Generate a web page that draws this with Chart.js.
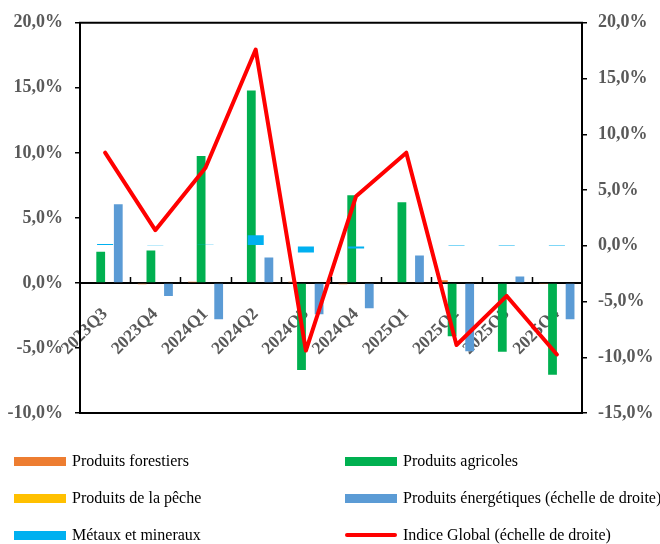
<!DOCTYPE html>
<html>
<head>
<meta charset="utf-8">
<script src="https://cdn.jsdelivr.net/npm/chart.js@4/dist/chart.umd.min.js"></script>
<style>
  html, body { margin: 0; padding: 0; background: #ffffff; }
  #wrap { position: relative; width: 660px; height: 544px; overflow: hidden; }
  #chart { position: absolute; left: 0; top: 0; }
  .item { position: absolute; height: 20px; display: flex; align-items: center;
          font-family: 'Liberation Serif', 'Times New Roman', serif; font-size: 16px;
          color: #000000; white-space: nowrap; }
  .swatch { display: inline-block; width: 52px; margin-right: 6px; }
</style>
</head>
<body>
<div id="wrap">
  <canvas id="chart" width="660" height="544"></canvas>
  <div id="legend"></div>
</div>
<script>
// Quarterly variation of commodity price sub-indices (%)
const quarters = ['2023Q3', '2023Q4', '2024Q1', '2024Q2', '2024Q3', '2024Q4', '2025Q1', '2025Q2', '2025Q3', '2025Q4'];

const forestiers   = [0.0, -0.1, 0.1, 0.0, 0.1, -0.1, 0.0, 0.2, 0.0, -0.05];
const agricoles    = [2.4, 2.5, 9.75, 14.8, -6.7, 6.75, 6.2, -4.1, -5.3, -7.05];
const peche        = [0.0, 0.0, 0.0, 0.0, 0.0, 0.0, 0.0, 0.0, 0.0, 0.0];
const energetiques = [6.05, -1.0, -2.8, 1.95, -2.4, -1.95, 2.1, -5.25, 0.5, -2.8];
const metaux       = [0.15, 0.05, 0.1, 0.95, -0.6, -0.25, 0.08, 0.03, 0.03, 0.03];
const indiceGlobal = [8.35, 1.4, 7.0, 17.6, -9.4, 4.45, 8.35, -8.9, -4.5, -9.75];

const leftTicks  = [-10, -5, 0, 5, 10, 15, 20];
const rightTicks = [-15, -10, -5, 0, 5, 10, 15, 20];

const colors = {
  forestiers: '#ED7D31',
  agricoles: '#00B050',
  peche: '#FFC000',
  energetiques: '#5B9BD5',
  metaux: '#00B0F0',
  indice: '#FF0000'
};

const AXIS_GREY = '#595959';
const SERIF = "'Liberation Serif', 'Times New Roman', serif";

const pct = v => v.toFixed(1).replace('.', ',') + '%';

// Box frame (top / bottom edges) and upward category separators on the zero line
const framePlugin = {
  id: 'frame',
  afterDatasetsDraw(chart) {
    const { ctx, chartArea: a, scales } = chart;
    ctx.save();
    ctx.strokeStyle = '#000000';
    ctx.lineWidth = 2;
    ctx.beginPath();
    ctx.moveTo(a.left - 1, a.top);
    ctx.lineTo(a.right + 1, a.top);
    ctx.moveTo(a.left - 1, a.bottom);
    ctx.lineTo(a.right + 1, a.bottom);
    ctx.stroke();

    const x = scales.x;
    const zeroY = scales.y.getPixelForValue(0);
    ctx.lineWidth = 1.5;
    ctx.beginPath();
    for (let i = 1; i < quarters.length; i++) {
      const px = Math.round((x.getPixelForTick(i - 1) + x.getPixelForTick(i)) / 2) + 0.5;
      ctx.moveTo(px, zeroY);
      ctx.lineTo(px, zeroY - 6);
    }
    ctx.stroke();
    ctx.restore();
  }
};

const chart = new Chart(document.getElementById('chart'), {
  data: {
    labels: quarters,
    datasets: [
      {
        type: 'line', label: 'Indice Global (échelle de droite)', data: indiceGlobal,
        yAxisID: 'y1', order: 0,
        borderColor: colors.indice, backgroundColor: colors.indice,
        borderWidth: 4, pointRadius: 0, tension: 0,
        borderJoinStyle: 'round', borderCapStyle: 'round'
      },
      {
        type: 'bar', label: 'Métaux et mineraux', data: metaux,
        yAxisID: 'y1', order: 1, grouped: false,
        backgroundColor: colors.metaux,
        categoryPercentage: 1, barPercentage: 0.32
      },
      {
        type: 'bar', label: 'Produits forestiers', data: forestiers,
        yAxisID: 'y', order: 2, backgroundColor: colors.forestiers,
        categoryPercentage: 0.7, barPercentage: 1
      },
      {
        type: 'bar', label: 'Produits agricoles', data: agricoles,
        yAxisID: 'y', order: 3, backgroundColor: colors.agricoles,
        categoryPercentage: 0.7, barPercentage: 1
      },
      {
        type: 'bar', label: 'Produits de la pêche', data: peche,
        yAxisID: 'y', order: 4, backgroundColor: colors.peche,
        categoryPercentage: 0.7, barPercentage: 1
      },
      {
        type: 'bar', label: 'Produits énergétiques (échelle de droite)', data: energetiques,
        yAxisID: 'y', order: 5, backgroundColor: colors.energetiques,
        categoryPercentage: 0.7, barPercentage: 1
      }
    ]
  },
  options: {
    responsive: false,
    devicePixelRatio: 1,
    animation: false,
    layout: { padding: { top: 21, bottom: 131, left: 0, right: 0 } },
    plugins: { legend: { display: false }, tooltip: { enabled: false } },
    scales: {
      x: {
        type: 'category',
        position: { y: 0 },
        offset: true,
        grid: { display: true, drawOnChartArea: false, drawTicks: false, offset: true },
        border: { display: true, color: '#000000', width: 2 },
        ticks: {
          autoSkip: false, minRotation: 45, maxRotation: 45, padding: 21,
          color: AXIS_GREY, font: { family: SERIF, size: 17.5, weight: 'bold' }
        }
      },
      y: {
        position: 'left',
        min: -10, max: 20,
        afterBuildTicks: s => { s.ticks = leftTicks.map(v => ({ value: v })); },
        afterFit: s => { s.width = 80; },
        grid: { drawOnChartArea: false, drawTicks: true, tickLength: 5, color: '#000000', lineWidth: 1.5 },
        border: { display: true, color: '#000000', width: 2 },
        ticks: {
          padding: 12, color: AXIS_GREY,
          font: { family: SERIF, size: 18, weight: 'bold' },
          callback: v => pct(v)
        }
      },
      y1: {
        position: 'right',
        min: -15, max: 20,
        afterBuildTicks: s => { s.ticks = rightTicks.map(v => ({ value: v })); },
        afterFit: s => { s.width = 78; },
        grid: { drawOnChartArea: false, drawTicks: true, tickLength: 5, color: '#000000', lineWidth: 1.5 },
        border: { display: true, color: '#000000', width: 2 },
        ticks: {
          padding: 11, color: AXIS_GREY,
          font: { family: SERIF, size: 18, weight: 'bold' },
          callback: v => pct(v)
        }
      }
    }
  },
  plugins: [framePlugin]
});

// Two-column legend below the plot, built from the chart's datasets
const legendLayout = [
  { label: 'Produits forestiers', left: 14, top: 461 },
  { label: 'Produits de la pêche', left: 14, top: 498 },
  { label: 'Métaux et mineraux', left: 14, top: 535 },
  { label: 'Produits agricoles', left: 345, top: 461 },
  { label: 'Produits énergétiques (échelle de droite)', left: 345, top: 498 },
  { label: 'Indice Global (échelle de droite)', left: 345, top: 535 }
];
const legendEl = document.getElementById('legend');
legendLayout.forEach(entry => {
  const ds = chart.data.datasets.find(d => d.label === entry.label);
  const item = document.createElement('div');
  item.className = 'item';
  item.style.left = entry.left + 'px';
  item.style.top = (entry.top - 10) + 'px';
  const sw = document.createElement('span');
  sw.className = 'swatch';
  if (ds.type === 'line') {
    sw.style.height = '4px';
    sw.style.borderRadius = '2px';
    sw.style.background = ds.borderColor;
  } else {
    sw.style.height = '9px';
    sw.style.background = ds.backgroundColor;
  }
  const tx = document.createElement('span');
  tx.textContent = ds.label;
  item.appendChild(sw);
  item.appendChild(tx);
  legendEl.appendChild(item);
});
</script>
</body>
</html>
